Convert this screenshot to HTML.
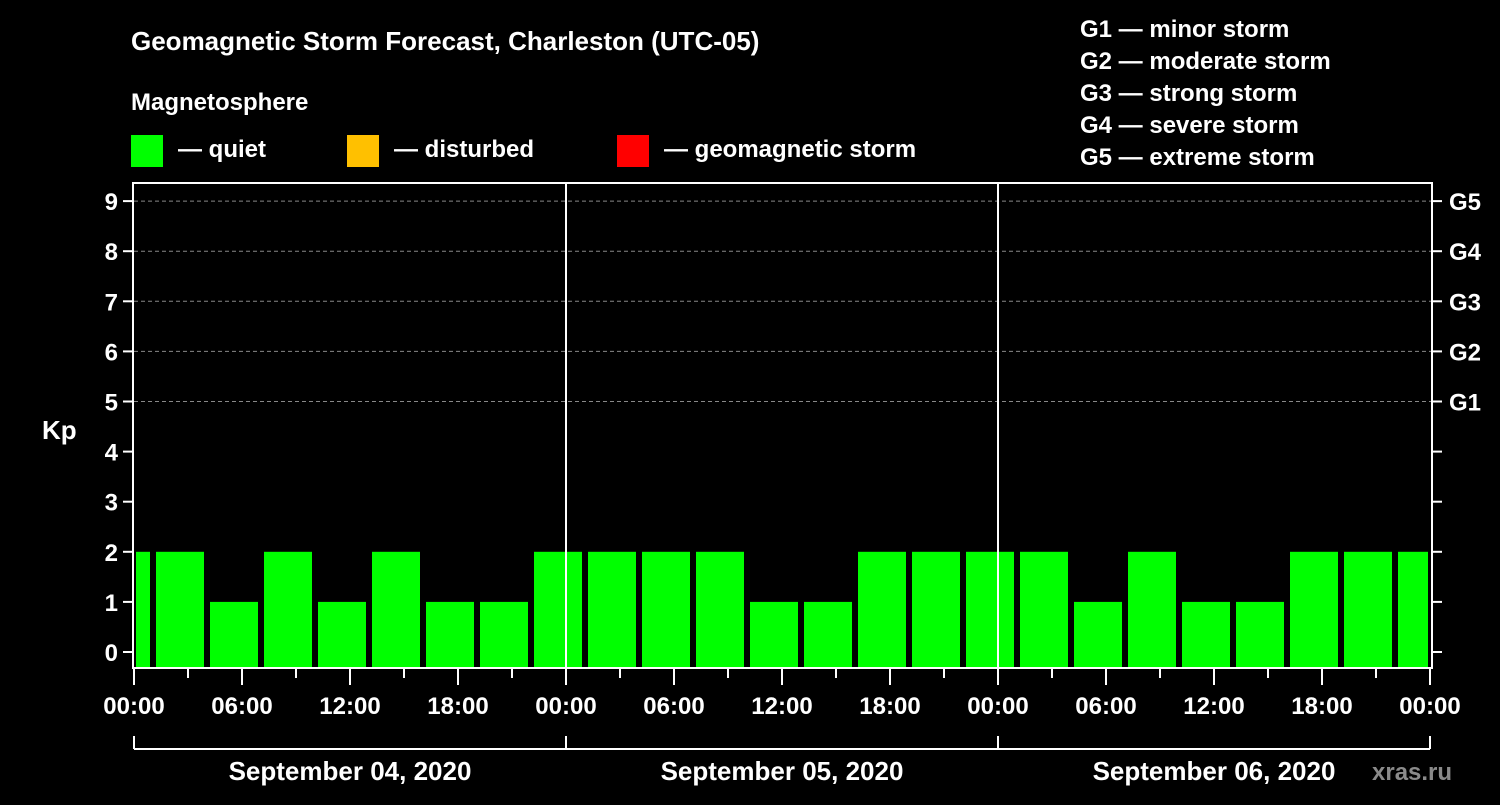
<!DOCTYPE html>
<html><head><meta charset="utf-8"><style>
body{margin:0;background:#000;width:1500px;height:800px;overflow:hidden}
svg text{font-family:"Liberation Sans",Arial,sans-serif;font-weight:bold;fill:#fff}
</style></head><body>
<svg id="chart" width="1500" height="800" xmlns="http://www.w3.org/2000/svg">
<rect width="1500" height="800" fill="#000"/>
<text x="131" y="50" font-size="26">Geomagnetic Storm Forecast, Charleston (UTC-05)</text>
<text x="131" y="110" font-size="24">Magnetosphere</text>
<g><rect x="131" y="135" width="32" height="32" fill="#00ff00"/><text x="178" y="157" font-size="24">— quiet</text></g>
<g><rect x="347" y="135" width="32" height="32" fill="#ffc000"/><text x="394" y="157" font-size="24">— disturbed</text></g>
<g><rect x="617" y="135" width="32" height="32" fill="#ff0000"/><text x="664" y="157" font-size="24">— geomagnetic storm</text></g>
<g font-size="24">
<text x="1080" y="37">G1 — minor storm</text>
<text x="1080" y="69">G2 — moderate storm</text>
<text x="1080" y="101">G3 — strong storm</text>
<text x="1080" y="133">G4 — severe storm</text>
<text x="1080" y="165">G5 — extreme storm</text>
</g>
<text x="42" y="439" font-size="26">Kp</text>
<text x="1372" y="780" font-size="24" fill="#888" style="fill:#8a8a8a">xras.ru</text>
<g id="grid"></g><g id="bars"></g><g id="axes"></g>
</svg>
<script>
const kpValues=[2,2,1,2,1,2,1,1,2,2,2,2,1,1,2,2,2,2,1,2,1,1,2,2,2];
const slotStartHours=[-2,1,4,7,10,13,16,19,22,25,28,31,34,37,40,43,46,49,52,55,58,61,64,67,70];
const xTickLabels=["00:00","06:00","12:00","18:00","00:00","06:00","12:00","18:00","00:00","06:00","12:00","18:00","00:00"];
const dayLabels=["September 04, 2020","September 05, 2020","September 06, 2020"];
const gLabels=["G1","G2","G3","G4","G5"];
const NS="http://www.w3.org/2000/svg";
const X0=134,X1=1432,Y0=183,Y1=668;
const x=h=>X0+h*18;
const y=v=>652-v*50.1;
function mk(tag,attrs,parent,txt){const e=document.createElementNS(NS,tag);for(const k in attrs)e.setAttribute(k,attrs[k]);if(txt!==undefined)e.textContent=txt;parent.appendChild(e);return e;}
const grid=document.getElementById('grid'),bars=document.getElementById('bars'),axes=document.getElementById('axes');
for(let v=5;v<=9;v++){const l=mk('line',{x1:X0,x2:X1,y1:y(v),y2:y(v),stroke:'#888','stroke-dasharray':'4,3','stroke-width':1},grid);

}
const colorFor=v=>v>=5?'#ff0000':(v>=4?'#ffc000':'#00ff00');
kpValues.forEach((v,i)=>{let a=x(slotStartHours[i])+4,b=a+48;a=Math.max(a,X0+2);b=Math.min(b,X1-4);
const r=mk('rect',{x:a,y:y(v),width:b-a,height:Y1-y(v),fill:colorFor(v)},bars);

});
mk('rect',{x:X0-1,y:Y0,width:X1-X0+1,height:Y1-Y0,fill:'none',stroke:'#fff','stroke-width':2},axes);
[1,2].forEach(d=>{const l=mk('line',{x1:x(24*d),x2:x(24*d),y1:Y0,y2:Y1,stroke:'#fff','stroke-width':2},axes);

});
for(let v=0;v<=9;v++){mk('line',{x1:X0-11,x2:X0-1,y1:y(v),y2:y(v),stroke:'#fff','stroke-width':2},axes);
mk('line',{x1:X1,x2:X1+10,y1:y(v),y2:y(v),stroke:'#fff','stroke-width':2},axes);
const t=mk('text',{x:X0-16,y:y(v)+9,'font-size':24,'text-anchor':'end'},axes,String(v));

}
gLabels.forEach((g,i)=>{const t=mk('text',{x:1449,y:y(i+5)+9,'font-size':24},axes,g);

});
for(let h=0;h<=72;h+=3){const maj=h%6===0;mk('line',{x1:x(h),x2:x(h),y1:Y1,y2:Y1+(maj?17:10),stroke:'#fff','stroke-width':2},axes);}
xTickLabels.forEach((s,i)=>{const t=mk('text',{x:x(i*6),y:714,'font-size':24,'text-anchor':'middle'},axes,s);

});
mk('line',{x1:X0,x2:X1-2,y1:749,y2:749,stroke:'#fff','stroke-width':2},axes);
for(let d=0;d<=3;d++)mk('line',{x1:x(24*d),x2:x(24*d),y1:736,y2:749,stroke:'#fff','stroke-width':2},axes);
dayLabels.forEach((s,i)=>{const t=mk('text',{x:x(24*i+12),y:780,'font-size':26,'text-anchor':'middle'},axes,s);

});
</script>
</body></html>
